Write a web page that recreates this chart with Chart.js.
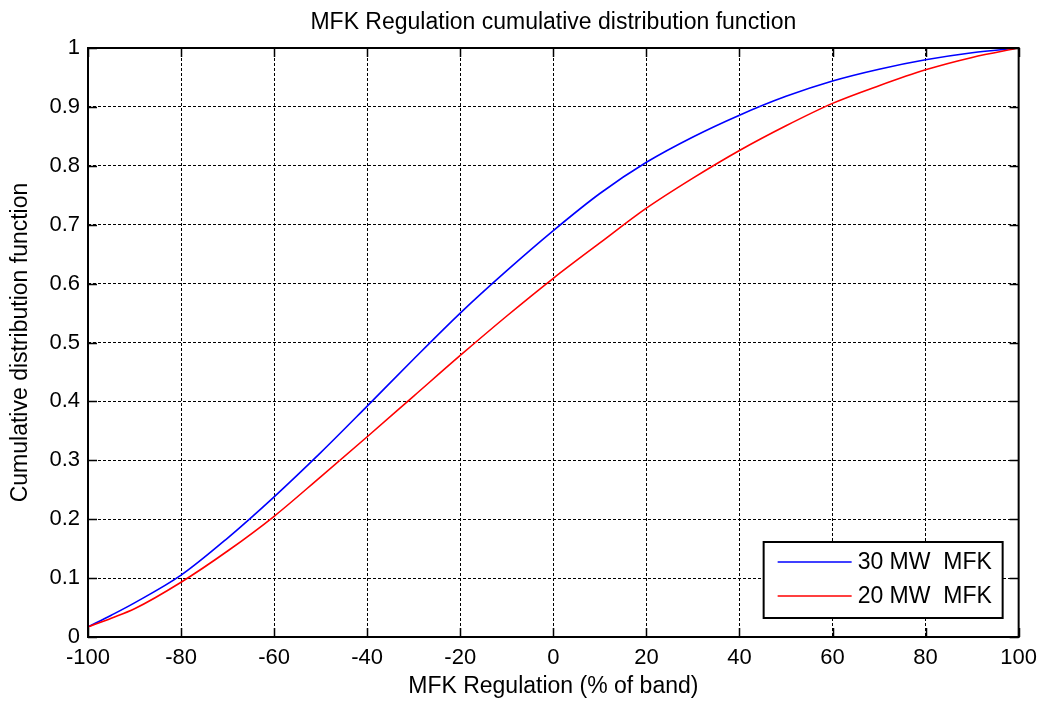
<!DOCTYPE html>
<html lang="en">
<head>
    <meta charset="UTF-8">
    <title>MFK Regulation CDF</title>
    <script src="https://cdn.jsdelivr.net/npm/chart.js"></script>
    <style>
        html, body { margin: 0; padding: 0; background: #fff; }
        #box { width: 1045px; height: 704px; }
    </style>
</head>
<body>
<div id="box"><canvas id="cdfChart"></canvas></div>
<script>
    // values
    const xValues   = [-100, -95, -90, -80, -70, -60, -50, -40, -30, -20, -10, 0, 10, 20, 30, 40, 50, 60, 70, 80, 90, 100];
    const cdf30MW   = [0.017, 0.037, 0.058, 0.105, 0.168, 0.238, 0.313, 0.392, 0.472, 0.550, 0.622, 0.690, 0.753, 0.806, 0.849, 0.886, 0.918, 0.944, 0.964, 0.980, 0.992, 1.0];
    const cdf20MW   = [0.017, 0.032, 0.048, 0.093, 0.146, 0.205, 0.272, 0.340, 0.409, 0.478, 0.545, 0.609, 0.669, 0.728, 0.779, 0.826, 0.868, 0.906, 0.936, 0.963, 0.984, 1.0];
    const seriesNames = ['30 MW  MFK', '20 MW  MFK'];
    const xTicks    = [-100, -80, -60, -40, -20, 0, 20, 40, 60, 80, 100];
    const yTicks    = [0, 0.1, 0.2, 0.3, 0.4, 0.5, 0.6, 0.7, 0.8, 0.9, 1];
    const chartTitle = 'MFK Regulation cumulative distribution function';

    const FONT = '"Liberation Sans", Arial, sans-serif';

    function toPoints(xs, ys) {
        return xs.map((x, i) => ({ x: x, y: ys[i] }));
    }

    // box, inward tick marks, title and legend like the matlab figure
    const matlabFrame = {
        id: 'matlabFrame',
        afterDraw(chart) {
            const ctx = chart.ctx;
            const a = chart.chartArea;
            const xs = chart.scales.x, ys = chart.scales.y;
            const tl = 9;
            ctx.save();
            ctx.strokeStyle = '#000';
            ctx.lineWidth = 1.5;
            ctx.beginPath();
            xTicks.forEach(v => {
                const px = Math.round(xs.getPixelForValue(v)) + 0.5;
                ctx.moveTo(px, a.bottom); ctx.lineTo(px, a.bottom - tl);
                ctx.moveTo(px, a.top);    ctx.lineTo(px, a.top + tl);
            });
            yTicks.forEach(v => {
                const py = Math.round(ys.getPixelForValue(v)) + 0.5;
                ctx.moveTo(a.left, py);  ctx.lineTo(a.left + tl, py);
                ctx.moveTo(a.right, py); ctx.lineTo(a.right - tl, py);
            });
            ctx.stroke();
            ctx.lineWidth = 2;
            ctx.strokeRect(a.left, a.top, a.right - a.left, a.bottom - a.top);

            // title centred over the axes box
            ctx.fillStyle = '#000';
            ctx.font = '23px ' + FONT;
            ctx.textAlign = 'center';
            ctx.textBaseline = 'middle';
            ctx.fillText(chartTitle, (a.left + a.right) / 2, 23);

            // legend
            const lx = a.right - 255, ly = a.bottom - 95, lw = 239, lh = 76;
            ctx.fillStyle = '#fff';
            ctx.fillRect(lx, ly, lw, lh);
            ctx.lineWidth = 2;
            ctx.strokeRect(lx, ly, lw, lh);
            ctx.font = '23px ' + FONT;
            ctx.textAlign = 'left';
            chart.data.datasets.forEach((ds, i) => {
                const rowY = ly + 20 + i * 34;
                ctx.strokeStyle = ds.borderColor;
                ctx.lineWidth = 1.5;
                ctx.beginPath();
                ctx.moveTo(lx + 14, rowY); ctx.lineTo(lx + 88, rowY);
                ctx.stroke();
                ctx.fillStyle = '#000';
                ctx.fillText(ds.label, lx + 94, rowY + 1);
            });
            ctx.restore();
        }
    };

    const ctx = document.getElementById('cdfChart').getContext('2d');
    const cdfChart = new Chart(ctx, {
        type: 'line',
        data: {
            datasets: [
                {
                    label: seriesNames[0],
                    data: toPoints(xValues, cdf30MW),
                    borderColor: '#0000ff',
                    borderWidth: 1.6,
                    pointRadius: 0,
                    cubicInterpolationMode: 'monotone',
                    order: 2
                },
                {
                    label: seriesNames[1],
                    data: toPoints(xValues, cdf20MW),
                    borderColor: '#ff0000',
                    borderWidth: 1.6,
                    pointRadius: 0,
                    cubicInterpolationMode: 'monotone',
                    order: 1
                }
            ]
        },
        options: {
            responsive: true,
            maintainAspectRatio: false,
            animation: false,
            layout: { padding: { left: 0, right: 24, top: 48, bottom: 0 } },
            plugins: {
                legend: { display: false },
                tooltip: { enabled: false },
                title: { display: false }
            },
            scales: {
                x: {
                    type: 'linear',
                    min: -100,
                    max: 100,
                    afterBuildTicks: s => { s.ticks = xTicks.map(v => ({ value: v })); },
                    afterFit: s => { s.height = 67; },
                    grid: { color: '#000', lineWidth: 1, drawTicks: false },
                    border: { display: false, dash: [3, 2] },
                    ticks: { color: '#000', font: { family: FONT, size: 22 }, padding: 8, maxRotation: 0 },
                    title: {
                        display: true,
                        text: 'MFK Regulation (% of band)',
                        color: '#000',
                        font: { family: FONT, size: 23 },
                        padding: { top: 0, bottom: 4 }
                    }
                },
                y: {
                    min: 0,
                    max: 1,
                    afterBuildTicks: s => { s.ticks = yTicks.map(v => ({ value: v })); },
                    afterFit: s => { s.width = 88; },
                    grid: { color: '#000', lineWidth: 1, drawTicks: false },
                    border: { display: false, dash: [3, 2] },
                    ticks: {
                        color: '#000',
                        font: { family: FONT, size: 22 },
                        padding: 8,
                        callback: v => String(+v.toFixed(1))
                    },
                    title: {
                        display: true,
                        text: 'Cumulative distribution function',
                        color: '#000',
                        font: { family: FONT, size: 23 },
                        padding: { top: 7, bottom: 0 }
                    }
                }
            }
        },
        plugins: [matlabFrame]
    });
</script>
</body>
</html>
